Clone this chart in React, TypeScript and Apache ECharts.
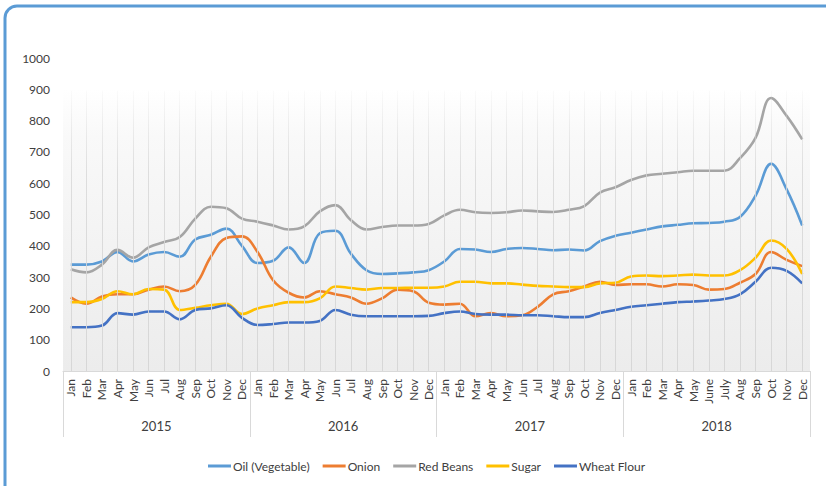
import React, { useEffect, useRef } from "react";
import * as echarts from "echarts";

const years = ["2015", "2016", "2017", "2018"];
const monthsStd = ["Jan", "Feb", "Mar", "Apr", "May", "Jun", "Jul", "Aug", "Sep", "Oct", "Nov", "Dec"];
const months2018 = ["Jan", "Feb", "Mar", "Apr", "May", "June", "July", "Aug", "Sep", "Oct", "Nov", "Dec"];

const oil = [
  340, 340, 350, 380, 350, 372, 380, 365, 420, 435, 455, 400,
  345, 352, 395, 345, 440, 448, 375, 322, 310, 312, 315, 322,
  350, 390, 388, 380, 390, 393, 390, 386, 388, 385, 415, 432,
  442, 452, 462, 467, 472, 473, 477, 492, 560, 662, 580, 465,
];
const onion = [
  235, 215, 238, 245, 245, 260, 270, 255, 275, 365, 425, 430,
  380, 290, 250, 235, 255, 245, 235, 215, 232, 260, 255, 218,
  212, 215, 175, 185, 175, 178, 205, 245, 255, 270, 285, 275,
  277, 277, 270, 277, 275, 260, 262, 282, 310, 380, 355, 335,
];
const redBeans = [
  325, 315, 340, 387, 362, 395, 412, 428, 487, 525, 520, 487,
  477, 465, 452, 462, 510, 530, 482, 452, 460, 465, 465, 470,
  497, 515, 507, 505, 507, 513, 510, 508, 515, 527, 570, 587,
  610, 625, 630, 635, 640, 640, 640, 680, 745, 872, 815, 740,
];
const sugar = [
  220, 220, 230, 255, 245, 262, 260, 195, 202, 210, 215, 182,
  200, 210, 220, 220, 232, 270, 265, 260, 265, 265, 266, 266,
  270, 285, 285, 280, 280, 276, 272, 270, 268, 268, 280, 282,
  302, 305, 303, 305, 308, 305, 305, 322, 362, 417, 390, 310,
];
const wheatFlour = [
  140, 140, 145, 185, 180, 190, 190, 165, 195, 200, 210, 170,
  147, 150, 155, 155, 160, 195, 180, 175, 175, 175, 175, 176,
  185, 190, 182, 180, 180, 178, 178, 175, 172, 172, 185, 195,
  205, 210, 215, 220, 222, 225, 230, 245, 285, 330, 320, 280,
];

const seriesNames = ["Oil (Vegetable)", "Onion", "Red Beans", "Sugar", "Wheat Flour"];
const seriesColors = ["#5b9bd5", "#ed7d31", "#a5a5a5", "#ffc000", "#4472c4"];
const seriesData = [oil, onion, redBeans, sugar, wheatFlour];

const categories: string[] = [];
years.forEach((y) => {
  const m = y === "2018" ? months2018 : monthsStd;
  m.forEach((mm) => categories.push(y + "-" + mm));
});

const FONT = "Lato";

export default function App() {
  const ref = useRef<HTMLDivElement>(null);
  useEffect(() => {
    const chart = echarts.init(ref.current!, null, { renderer: "svg" });
    const series: any[] = seriesNames.map((name, i) => ({
      name,
      type: "line",
      data: seriesData[i],
      smooth: 0.4,
      showSymbol: false,
      symbol: "none",
      lineStyle: { color: seriesColors[i], width: 2.6 },
      itemStyle: { color: seriesColors[i] },
      z: 3,
    }));
    series.push({
      name: "grid",
      type: "line",
      data: [],
      silent: true,
      markLine: {
        silent: true,
        symbol: "none",
        label: { show: false },
        lineStyle: {
          color: new echarts.graphic.LinearGradient(
            0, 90, 0, 371,
            [
              { offset: 0, color: "rgba(215,215,215,0.1)" },
              { offset: 0.3, color: "rgba(215,215,215,0.8)" },
              { offset: 1, color: "rgba(215,215,215,1)" },
            ],
            true
          ),
          width: 1,
          type: "solid",
        },
        data: categories.map((c) => [{ coord: [c, 0] }, { coord: [c, 895] }]),
      },
      z: 1,
    });
    chart.setOption({
      animation: false,
      textStyle: { fontFamily: FONT },
      graphic: [
        {
          type: "rect",
          shape: { x: 5, y: 6, width: 860, height: 520, r: 12 },
          style: { fill: "none", stroke: "#5b9bd5", lineWidth: 3 },
          silent: true,
        },
      ],
      grid: {
        left: 63,
        right: 16,
        top: 58,
        bottom: 115,
        show: true,
        borderWidth: 0,
        backgroundColor: new echarts.graphic.LinearGradient(0, 0, 0, 1, [
          { offset: 0, color: "#ffffff" },
          { offset: 0.1, color: "#ffffff" },
          { offset: 0.25, color: "#f9f9f9" },
          { offset: 1, color: "#ececec" },
        ]),
      },
      legend: {
        data: seriesNames,
        bottom: 9,
        left: 203,
        icon: "rect",
        itemWidth: 23,
        itemHeight: 3,
        itemGap: 13,
        textStyle: { color: "#404040", fontSize: 12, fontFamily: FONT, padding: [0, 0, 0, -3] },
      },
      xAxis: [
        {
          type: "category",
          data: categories,
          boundaryGap: true,
          axisLine: { show: true, lineStyle: { color: "#d9d9d9" } },
          axisTick: { show: false },
          splitLine: { show: false },
          axisLabel: {
            rotate: 90,
            interval: 0,
            margin: 8,
            color: "#404040",
            fontSize: 12,
            fontFamily: FONT,
            formatter: (v: string) => v.split("-")[1],
          },
        },
        {
          type: "category",
          data: years,
          position: "bottom",
          boundaryGap: true,
          axisLine: { show: false },
          axisTick: { show: true, length: 66, interval: 0, lineStyle: { color: "#d9d9d9" } },
          axisLabel: { margin: 48, color: "#404040", fontSize: 13, fontFamily: FONT },
          splitLine: { show: false },
        },
      ],
      yAxis: {
        type: "value",
        min: 0,
        max: 1000,
        interval: 100,
        axisLine: { show: false },
        axisTick: { show: false },
        splitLine: { show: false },
        axisLabel: {
          color: "#404040",
          fontSize: 12,
          fontFamily: FONT,
          margin: 13,
          formatter: (v: number) => String(v),
        },
      },
      series,
    });
    return () => chart.dispose();
  }, []);
  return (
    <div
      ref={ref}
      style={{ position: "absolute", left: 0, top: 0, width: 826, height: 486, background: "#fff" }}
    />
  );
}
